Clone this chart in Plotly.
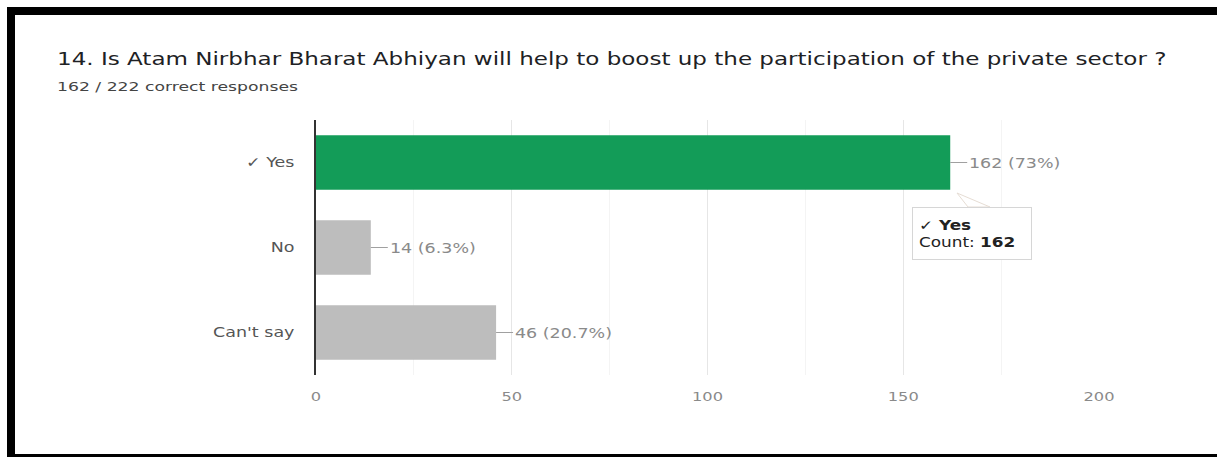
import plotly.graph_objects as go

# Survey question data
question = "14. Is Atam Nirbhar Bharat Abhiyan will help to boost up the participation of the private sector ?"
correct = 162
total = 222
categories = ["✓ Yes", "No", "Can't say"]
counts = [162, 14, 46]
bar_colors = ["#139c58", "#bdbdbd", "#bdbdbd"]
x_ticks = [0, 50, 100, 150, 200]

W, H = 1217, 457
L, R, T, B = 316, 118, 120, 82
PW, PH = W - L - R, H - T - B
FONT = "DejaVu Sans"


def px(x):
    return (x - L) / PW


def py(y):
    return (H - B - y) / PH


def pct(v):
    p = round(v / total * 100, 1)
    return f"{p:g}%"


fig = go.Figure()
fig.add_trace(go.Bar(
    x=counts,
    y=categories,
    orientation="h",
    marker=dict(color=bar_colors, line=dict(width=0)),
    hoverinfo="skip",
))

# value labels with short leader lines
for c, v in zip(categories, counts):
    fig.add_annotation(
        x=v, y=c, xref="x", yref="y",
        text=f"{v} ({pct(v)})",
        showarrow=True, arrowhead=0, arrowwidth=1, arrowcolor="#a0a0a0",
        ax=17, ay=0, xanchor="left", align="left",
        font=dict(family=FONT, size=14, color="#8a8a8a"),
    )

# tooltip on the highlighted bar
tip_x0, tip_y0, tip_w, tip_h = 912, 207, 120, 53
fig.add_shape(
    type="path", xref="paper", yref="paper",
    path=(f"M {px(957)} {py(193)} L {px(968)} {py(tip_y0)} "
          f"L {px(990)} {py(tip_y0)} Z"),
    fillcolor="white", line=dict(color="#e6ddd4", width=1), layer="above",
)
fig.add_annotation(
    x=counts[0], y=categories[0], xref="x", yref="y",
    xshift=tip_x0 - (L + counts[0] * PW / 200), yshift=-(tip_y0 - 163),
    xanchor="left", yanchor="top", align="left", showarrow=False,
    text=f"<b>{categories[0]}</b><br>Count: <b>{counts[0]}</b>",
    font=dict(family=FONT, size=13.5, color="#222222"),
    bgcolor="white", bordercolor="#d6d6d6", borderwidth=1, borderpad=6,
    width=tip_w - 14, height=tip_h - 14,
)

# heading
fig.add_annotation(
    x=px(55), y=py(59), xref="paper", yref="paper",
    xanchor="left", yanchor="middle", align="left", showarrow=False,
    text=question,
    font=dict(family=FONT, size=18, color="#202124"),
)
fig.add_annotation(
    x=px(55), y=py(86.5), xref="paper", yref="paper",
    xanchor="left", yanchor="middle", align="left", showarrow=False,
    text=f"{correct} / {total} correct responses",
    font=dict(family=FONT, size=11.5, color="#444444"),
)

# outer frame
for x0, y0, x1, y1 in [(7, 7, 1217, 15), (7, 7, 15, 457), (7, 454, 1217, 457)]:
    fig.add_shape(type="rect", xref="paper", yref="paper",
                  x0=px(x0), x1=px(x1), y0=py(y0), y1=py(y1),
                  fillcolor="black", line=dict(width=0), layer="above")

fig.update_layout(
    width=W, height=H,
    margin=dict(l=L, r=R, t=T, b=B),
    paper_bgcolor="white", plot_bgcolor="white",
    showlegend=False, bargap=0.36,
    xaxis=dict(
        range=[0, 200], tickvals=x_ticks, showgrid=True,
        gridcolor="#e6e6e6", gridwidth=1, zeroline=False,
        showline=False, ticks="",
        tickfont=dict(family=FONT, size=13, color="#8a8a8a"),
        ticklabelstandoff=12,
        minor=dict(dtick=25, showgrid=True, gridcolor="#f4f4f4"),
        fixedrange=True,
    ),
    yaxis=dict(
        categoryorder="array", categoryarray=categories[::-1],
        showline=True, linecolor="#333333", linewidth=1.5,
        showgrid=False, ticks="", ticklabelstandoff=17,
        tickfont=dict(family=FONT, size=14, color="#555555"),
        fixedrange=True,
    ),
)

# widen the lettering horizontally, keeping each text's anchor point fixed
widen_text = """
var gd = document.getElementById('{plot_id}');
gd.querySelectorAll('text').forEach(function (t) {
  var fs = parseFloat(t.style.fontSize) || 13;
  var k = fs < 12 ? 1.5 : (fs > 16 ? 1.28 : 1.25);
  var x = parseFloat(t.getAttribute('x')) || 0;
  var tr = t.getAttribute('transform') || '';
  t.setAttribute('transform', tr + ' translate(' + x + ',0) scale(' + k + ',1) translate(' + (-x) + ',0)');
});
"""

fig.write_html("out.html", config={"displayModeBar": False}, post_script=widen_text)
